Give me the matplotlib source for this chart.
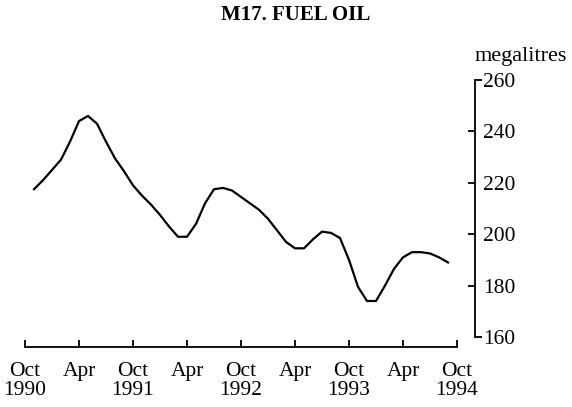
import matplotlib
matplotlib.use('Agg')
import matplotlib.pyplot as plt
import matplotlib.lines as mlines

plt.rcParams['font.family'] = ['Liberation Serif', 'DejaVu Serif']

# months counted from Oct 1990 (= 0); series runs Nov 1990 .. Sep 1994
months = list(range(1, 48))
fuel_oil = [217.5, 221, 225, 229, 236, 244, 246, 243, 236, 229.5, 224.5,
            219, 215, 211.5, 207.5, 203, 199, 199, 204, 212, 217.5, 218,
            217, 214.5, 212, 209.5, 206, 201.5, 197, 194.5, 194.5, 198,
            201, 200.5, 198.5, 190, 179.5, 174, 174, 180, 186.5, 191,
            193, 193, 192.5, 191, 189]

tick_pos = [0, 6, 12, 18, 24, 30, 36, 42, 48]
tick_labels = ['Oct\n1990', 'Apr', 'Oct\n1991', 'Apr', 'Oct\n1992',
               'Apr', 'Oct\n1993', 'Apr', 'Oct\n1994']
y_ticks = [160, 180, 200, 220, 240, 260]

W, H = 572, 407
fig = plt.figure(figsize=(W / 100, H / 100), dpi=100)
ax = fig.add_axes([25 / W, (H - 347) / H, (475 - 25) / W, (347 - 80) / H])

ax.plot(months, fuel_oil, color='black', linewidth=1.6)

ax.set_xlim(0, 50.0)
ax.set_ylim(156.1, 260)

for s in ['top', 'left']:
    ax.spines[s].set_visible(False)
ax.spines['bottom'].set_bounds(0, 48)
ax.spines['right'].set_bounds(160, 260)
ax.spines['bottom'].set_linewidth(1.3)
ax.spines['right'].set_linewidth(1.3)

ax.set_xticks(tick_pos)
ax.set_xticklabels(tick_labels, fontsize=15.5, linespacing=1.0)
ax.tick_params(axis='x', direction='in', length=5, width=1.3, pad=11)

ax.yaxis.tick_right()
ax.set_yticks(y_ticks)
ax.set_yticklabels([str(v) for v in y_ticks], fontsize=15.5)
ax.tick_params(axis='y', direction='in', length=5, width=1.3, pad=6)
yt = ax.yaxis.get_major_ticks()
for t in (yt[0], yt[-1]):
    t.tick2line.set_marker(mlines.TICKRIGHT)

fig.text(296 / W, 1 - 15 / H, 'M17. FUEL OIL', ha='center', va='center',
         fontsize=15, fontweight='bold')
fig.text(475 / W, 1 - 56 / H, 'megalitres', ha='left', va='center',
         fontsize=16)

fig.savefig('out.png', dpi=100)
